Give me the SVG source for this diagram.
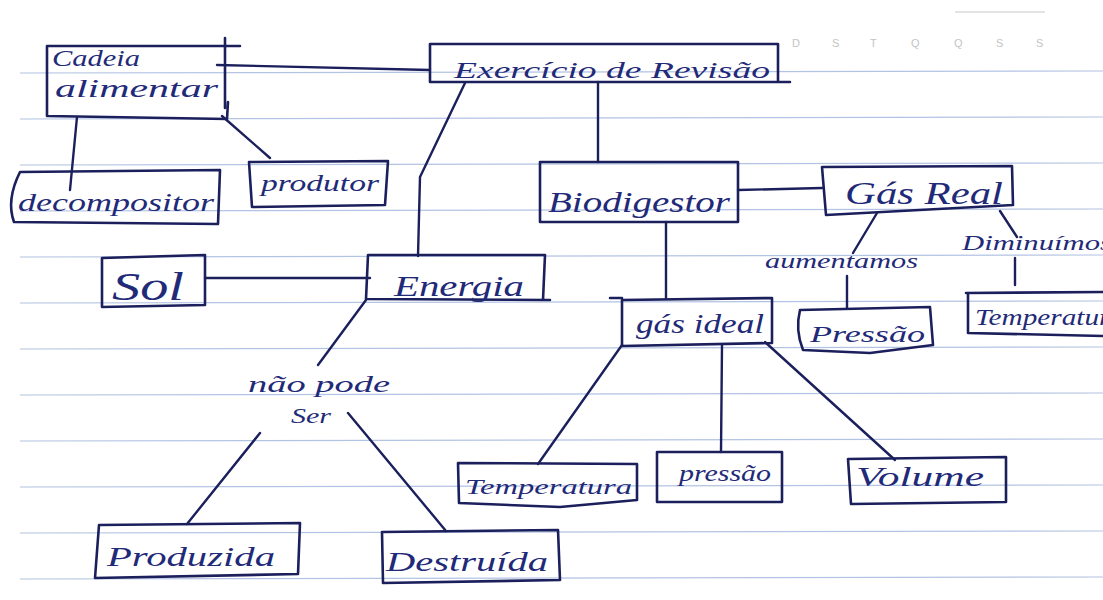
<svg xmlns="http://www.w3.org/2000/svg" width="1103" height="600" viewBox="0 0 1103 600">
  <style>
    .rule { stroke: #b3c3e3; stroke-width: 1.2; }
    .box { fill: none; stroke: #1b1f5c; stroke-width: 2.6; stroke-linejoin: round; stroke-linecap: round; }
    .link { fill: none; stroke: #1b1f5c; stroke-width: 2.4; stroke-linecap: round; }
    .hand { font-family: "Liberation Serif", "DejaVu Serif", serif; font-style: italic; fill: #1f2a78; }
    .week { font-family: "Liberation Sans", sans-serif; font-size: 11px; fill: #c4c4c4; }
  </style>

  <rect width="1103" height="600" fill="#ffffff"/>

  <!-- ruled notebook paper -->
  <g id="paper">
    <line x1="955" y1="12" x2="1045" y2="12" stroke="#c8c8c8" stroke-width="1.2"/>
    <g class="week">
      <text x="792" y="47">D</text><text x="832" y="47">S</text><text x="870" y="47">T</text>
      <text x="911" y="47">Q</text><text x="954" y="47">Q</text><text x="996" y="47">S</text>
      <text x="1036" y="47">S</text>
    </g>
    <g class="rule">
      <line x1="20" y1="73" x2="1103" y2="71"/>
      <line x1="20" y1="119" x2="1103" y2="117"/>
      <line x1="20" y1="165" x2="1103" y2="163"/>
      <line x1="20" y1="211" x2="1103" y2="209"/>
      <line x1="20" y1="257" x2="1103" y2="255"/>
      <line x1="20" y1="303" x2="1103" y2="301"/>
      <line x1="20" y1="349" x2="1103" y2="347"/>
      <line x1="20" y1="395" x2="1103" y2="393"/>
      <line x1="20" y1="441" x2="1103" y2="439"/>
      <line x1="20" y1="487" x2="1103" y2="485"/>
      <line x1="20" y1="533" x2="1103" y2="531"/>
      <line x1="20" y1="579" x2="1103" y2="577"/>
    </g>
  </g>

  <!-- connectors -->
  <g id="connectors">
    <path class="link" d="M217 65 L430 70"/>
    <path class="link" d="M77 117 L70 190"/>
    <path class="link" d="M222 116 L270 158"/>
    <path class="link" d="M465 83 L420 177 L418 256"/>
    <path class="link" d="M598 82 L598 162"/>
    <path class="link" d="M738 190 L822 188"/>
    <path class="link" d="M205 278 L370 278"/>
    <path class="link" d="M366 300 L318 365"/>
    <path class="link" d="M260 433 L187 524"/>
    <path class="link" d="M348 413 L446 531"/>
    <path class="link" d="M666 222 L666 298"/>
    <path class="link" d="M877 213 L853 253"/>
    <path class="link" d="M847 276 L847 308"/>
    <path class="link" d="M1000 211 L1017 237"/>
    <path class="link" d="M1015 258 L1015 285"/>
    <path class="link" d="M622 345 L538 464"/>
    <path class="link" d="M722 345 L721 452"/>
    <path class="link" d="M765 342 L895 460"/>
  </g>

  <g id="cadeia-alimentar">
    <path class="box" d="M47 46 L240 46 M225 38 L225 108 M228 102 L227 119 L47 116 L47 46"/>
    <text class="hand" x="52" y="66" font-size="23" textLength="88" lengthAdjust="spacingAndGlyphs">Cadeia</text>
    <text class="hand" x="55" y="97" font-size="25" textLength="163" lengthAdjust="spacingAndGlyphs">alimentar</text>
  </g>

  <g id="exercicio-revisao">
    <path class="box" d="M430 44 L778 44 L778 82 M790 82 L430 82 L430 44"/>
    <text class="hand" x="454" y="78" font-size="23" textLength="316" lengthAdjust="spacingAndGlyphs">Exercício de  Revisão</text>
  </g>

  <g id="decompositor">
    <path class="box" d="M20 172 L220 170 L218 224 L14 222 Q6 200 20 172 Z"/>
    <text class="hand" x="18" y="211" font-size="25" textLength="196" lengthAdjust="spacingAndGlyphs">decompositor</text>
  </g>

  <g id="produtor">
    <path class="box" d="M249 162 L388 161 L385 205 L252 207 Z"/>
    <text class="hand" x="261" y="191" font-size="24" textLength="118" lengthAdjust="spacingAndGlyphs">produtor</text>
  </g>

  <g id="biodigestor">
    <rect class="box" x="540" y="162" width="198" height="60"/>
    <text class="hand" x="548" y="212" font-size="30" textLength="182" lengthAdjust="spacingAndGlyphs">Biodigestor</text>
  </g>

  <g id="gas-real">
    <path class="box" d="M822 167 L1012 166 L1013 205 L826 215 Z"/>
    <text class="hand" x="845" y="204" font-size="32" textLength="158" lengthAdjust="spacingAndGlyphs">Gás Real</text>
  </g>

  <g id="sol">
    <path class="box" d="M102 258 L205 255 L205 305 L102 307 Z"/>
    <text class="hand" x="112" y="300" font-size="40" textLength="72" lengthAdjust="spacingAndGlyphs">Sol</text>
  </g>

  <g id="energia">
    <path class="box" d="M368 255 L545 255 L543 300 M550 300 L366 299 L368 255"/>
    <text class="hand" x="394" y="296" font-size="30" textLength="130" lengthAdjust="spacingAndGlyphs">Energia</text>
  </g>

  <g id="aumentamos">
    <text class="hand" x="765" y="268" font-size="21" textLength="153" lengthAdjust="spacingAndGlyphs">aumentamos</text>
  </g>

  <g id="diminuimos">
    <text class="hand" x="962" y="250" font-size="22" textLength="150" lengthAdjust="spacingAndGlyphs">Diminuímos</text>
  </g>

  <g id="gas-ideal">
    <path class="box" d="M622 300 L772 298 L772 343 L622 346 Z M610 298 L622 298"/>
    <text class="hand" x="636" y="333" font-size="28" textLength="128" lengthAdjust="spacingAndGlyphs">gás ideal</text>
  </g>

  <g id="pressao-real">
    <path class="box" d="M800 310 L930 307 L933 345 L870 353 L803 350 Q795 330 800 310 Z"/>
    <text class="hand" x="810" y="342" font-size="24" textLength="115" lengthAdjust="spacingAndGlyphs">Pressão</text>
  </g>

  <g id="temperatura-real">
    <path class="box" d="M966 293 L1103 292 M968 293 L968 333 L1103 336"/>
    <text class="hand" x="975" y="325" font-size="23" textLength="150" lengthAdjust="spacingAndGlyphs">Temperatura</text>
  </g>

  <g id="nao-pode-ser">
    <text class="hand" x="248" y="392" font-size="24" textLength="142" lengthAdjust="spacingAndGlyphs">não pode</text>
    <text class="hand" x="291" y="423" font-size="22" textLength="40" lengthAdjust="spacingAndGlyphs">Ser</text>
  </g>

  <g id="temperatura-ideal">
    <path class="box" d="M458 463 L637 464 L637 500 L560 507 L459 503 Z"/>
    <text class="hand" x="465" y="494" font-size="22" textLength="167" lengthAdjust="spacingAndGlyphs">Temperatura</text>
  </g>

  <g id="pressao-ideal">
    <rect class="box" x="657" y="452" width="125" height="50"/>
    <text class="hand" x="679" y="481" font-size="24" textLength="92" lengthAdjust="spacingAndGlyphs">pressão</text>
  </g>

  <g id="volume">
    <path class="box" d="M848 459 L1006 457 L1006 502 L851 504 Z"/>
    <text class="hand" x="856" y="486" font-size="28" textLength="128" lengthAdjust="spacingAndGlyphs">Volume</text>
  </g>

  <g id="produzida">
    <path class="box" d="M99 525 L300 523 L298 574 L95 578 Z"/>
    <text class="hand" x="107" y="566" font-size="28" textLength="168" lengthAdjust="spacingAndGlyphs">Produzida</text>
  </g>

  <g id="destruida">
    <path class="box" d="M382 532 L558 530 L560 580 L383 583 Z"/>
    <text class="hand" x="386" y="571" font-size="28" textLength="162" lengthAdjust="spacingAndGlyphs">Destruída</text>
  </g>
</svg>
